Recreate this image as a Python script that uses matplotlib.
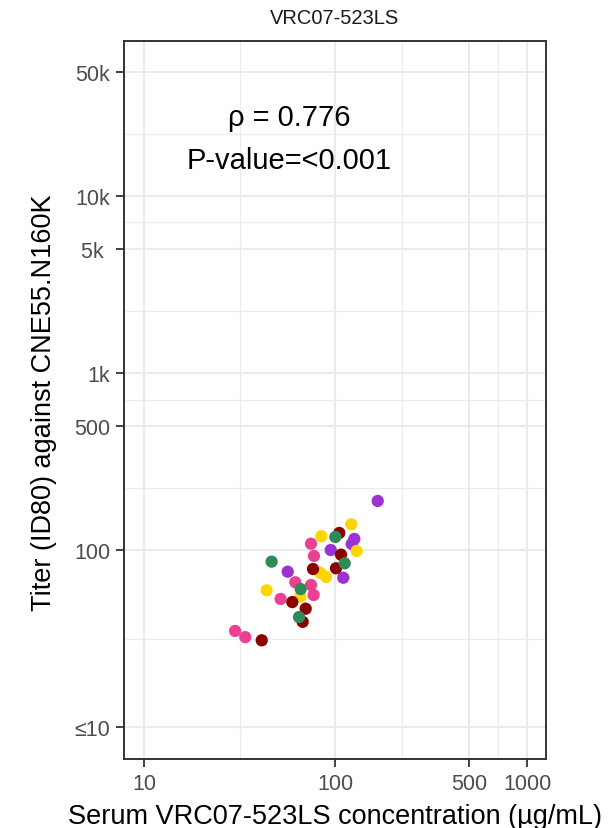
import math
import matplotlib.pyplot as plt
from matplotlib.ticker import FixedLocator, NullFormatter

plt.rcParams['font.family'] = ['Liberation Sans', 'DejaVu Sans']

# serum concentration (ug/mL) and ID80 titer, by colour group
purple_x = [166.1, 125.4, 121.5, 94.4, 56.3, 109.8]
purple_y = [189.2, 115.4, 108.1, 100.0, 75.4, 69.7]
gold_x = [120.9, 84.3, 129.0, 83.0, 89.2, 43.7, 65.5]
gold_y = [139.7, 119.5, 98.7, 74.4, 70.4, 59.2, 54.5]
pink_x = [74.5, 77.2, 61.7, 74.5, 76.9, 51.7, 29.9, 33.8]
pink_y = [108.5, 92.5, 65.7, 63.4, 55.7, 52.9, 34.9, 32.2]
red_x = [104.7, 106.8, 76.3, 100.6, 59.5, 69.9, 67.4, 41.2]
red_y = [124.8, 94.1, 78.1, 78.8, 50.8, 46.6, 39.3, 30.9]
green_x = [99.8, 111.7, 46.4, 65.8, 64.5]
green_y = [118.4, 84.1, 85.9, 60.2, 41.8]

x_breaks = [10, 100, 500, 1000]
x_labels = ['10', '100', '500', '1000']
y_breaks = [10, 100, 500, 1000, 5000, 10000, 50000]
y_labels = ['\u226410', '100', '500', '1k', '5k ', '10k', '50k']

fig = plt.figure(figsize=(6.16, 8.29), dpi=100)
ax = fig.add_axes([0.2013, 0.0832, 0.6851, 0.8661])

groups = [
    (purple_x, purple_y, '#9B32D4'),
    (gold_x, gold_y, '#FFD500'),
    (pink_x, pink_y, '#EC4192'),
    (red_x, red_y, '#8B0000'),
    (green_x, green_y, '#2E8B57'),
]
for gx, gy, col in groups:
    ax.scatter(gx, gy, s=78, color=col, edgecolors='none', zorder=3)

ax.set_xscale('log')
ax.set_yscale('log')
ax.set_xlim(7.87, 1256)
ax.set_ylim(6.6, 74800)


def mids(b):
    return [10 ** ((math.log10(a) + math.log10(c)) / 2) for a, c in zip(b[:-1], b[1:])]


ax.xaxis.set_major_locator(FixedLocator(x_breaks))
ax.set_xticklabels(x_labels)
ax.xaxis.set_minor_locator(FixedLocator(mids(x_breaks) + [10 ** 0.5]))
ax.xaxis.set_minor_formatter(NullFormatter())
ax.yaxis.set_major_locator(FixedLocator(y_breaks))
ax.set_yticklabels(y_labels)
ax.yaxis.set_minor_locator(FixedLocator(mids(y_breaks)))
ax.yaxis.set_minor_formatter(NullFormatter())

ax.grid(True, which='major', color='#EBEBEB', linewidth=1.5, zorder=0)
ax.grid(True, which='minor', color='#EBEBEB', linewidth=0.9, zorder=0)
ax.set_axisbelow(True)
ax.tick_params(which='major', direction='out', length=6, width=1.3,
               color='#333333', labelcolor='#4D4D4D', labelsize=15.5, pad=4)
ax.tick_params(which='minor', length=0)
for sp in ax.spines.values():
    sp.set_color('#333333')
    sp.set_linewidth(1.4)

ax.set_xlabel('Serum VRC07-523LS concentration (\u00b5g/mL)', fontsize=19.5,
              color='black', va='baseline')
ax.xaxis.set_label_coords(0.5, -0.0887)
ax.set_ylabel('Titer (ID80) against CNE55.N160K', fontsize=19.5,
              color='black')
ax.yaxis.set_label_coords(-0.159, 0.497)

ax.text(0.391, 0.8834, '\u03c1 = 0.776', transform=ax.transAxes,
        ha='center', va='baseline', fontsize=21)
ax.text(0.391, 0.8231, 'P-value=<0.001', transform=ax.transAxes,
        ha='center', va='baseline', fontsize=21)

fig.text(0.5436, 0.971, 'VRC07-523LS', ha='center', va='baseline',
         fontsize=14.5, color='#1A1A1A')

fig.savefig('out.png', dpi=100)
